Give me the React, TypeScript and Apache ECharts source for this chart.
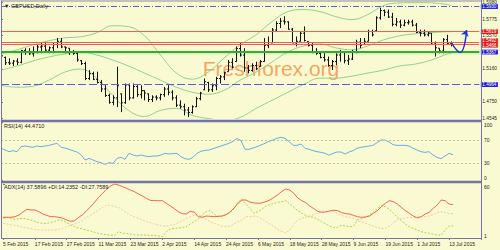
import React, { useEffect, useRef } from "react";
import * as echarts from "echarts";

const dateLabels = ["5 Feb 2015", "17 Feb 2015", "27 Feb 2015", "11 Mar 2015", "23 Mar 2015", "2 Apr 2015", "14 Apr 2015", "24 Apr 2015", "6 May 2015", "18 May 2015", "28 May 2015", "9 Jun 2015", "19 Jun 2015", "1 Jul 2015", "13 Jul 2015"];

const opens = [1.5240, 1.5300, 1.5235, 1.5230, 1.5255, 1.5240, 1.5385, 1.5370, 1.5345, 1.5360,
  1.5430, 1.5440, 1.5390, 1.5420, 1.5460, 1.5500, 1.5430, 1.5415, 1.5365, 1.5350,
  1.5260, 1.5225, 1.5040, 1.5100, 1.5030, 1.4990, 1.4910, 1.4830, 1.4745, 1.4800,
  1.4850, 1.4740, 1.4960, 1.4800, 1.4940, 1.4840, 1.4890, 1.4850, 1.4780, 1.4810,
  1.4800, 1.4840, 1.4910, 1.4870, 1.4800, 1.4710, 1.4690, 1.4650, 1.4620, 1.4690,
  1.4790, 1.4900, 1.4990, 1.4900, 1.4950, 1.5040, 1.5060, 1.5124, 1.5240, 1.5250,
  1.5410, 1.5330, 1.5170, 1.5140, 1.5200, 1.5190, 1.5250, 1.5450, 1.5480, 1.5640,
  1.5720, 1.5750, 1.5740, 1.5650, 1.5480, 1.5500, 1.5600, 1.5498, 1.5450, 1.5370,
  1.5350, 1.5300, 1.5270, 1.5200, 1.5250, 1.5330, 1.5370, 1.5260, 1.5280, 1.5370,
  1.5490, 1.5460, 1.5500, 1.5620, 1.5630, 1.5790, 1.5880, 1.5860, 1.5800, 1.5710,
  1.5740, 1.5700, 1.5730, 1.5740, 1.5700, 1.5610, 1.5600, 1.5580, 1.5600, 1.5480,
  1.5415, 1.5380, 1.5520, 1.5470];
const highs = [1.5332, 1.5311, 1.5290, 1.5269, 1.5290, 1.5394, 1.5415, 1.5415, 1.5436, 1.5456,
  1.5477, 1.5477, 1.5436, 1.5477, 1.5540, 1.5540, 1.5436, 1.5415, 1.5394, 1.5373,
  1.5269, 1.5248, 1.5144, 1.5124, 1.5124, 1.5020, 1.4957, 1.4853, 1.4832, 1.5186,
  1.4853, 1.4978, 1.4978, 1.4978, 1.4957, 1.4957, 1.4895, 1.4853, 1.4832, 1.4832,
  1.4853, 1.4936, 1.4957, 1.4895, 1.4832, 1.4770, 1.4728, 1.4687, 1.4708, 1.4812,
  1.4874, 1.5040, 1.4999, 1.4978, 1.5061, 1.5082, 1.5124, 1.5269, 1.5290, 1.5436,
  1.5477, 1.5415, 1.5207, 1.5228, 1.5248, 1.5269, 1.5540, 1.5560, 1.5664, 1.5748,
  1.5789, 1.5810, 1.5748, 1.5664, 1.5560, 1.5623, 1.5685, 1.5498, 1.5477, 1.5415,
  1.5373, 1.5352, 1.5311, 1.5269, 1.5352, 1.5394, 1.5373, 1.5332, 1.5394, 1.5519,
  1.5540, 1.5540, 1.5644, 1.5644, 1.5810, 1.5914, 1.5893, 1.5893, 1.5852, 1.5789,
  1.5768, 1.5768, 1.5768, 1.5768, 1.5727, 1.5644, 1.5644, 1.5623, 1.5602, 1.5498,
  1.5415, 1.5540, 1.5581, 1.5498];
const lows = [1.5195, 1.5207, 1.5207, 1.5195, 1.5207, 1.5228, 1.5332, 1.5332, 1.5311, 1.5352,
  1.5352, 1.5373, 1.5352, 1.5352, 1.5415, 1.5415, 1.5352, 1.5332, 1.5332, 1.5248,
  1.5207, 1.5020, 1.5020, 1.5020, 1.4978, 1.4874, 1.4812, 1.4728, 1.4708, 1.4687,
  1.4624, 1.4728, 1.4770, 1.4791, 1.4812, 1.4791, 1.4770, 1.4749, 1.4749, 1.4770,
  1.4770, 1.4812, 1.4832, 1.4770, 1.4687, 1.4666, 1.4583, 1.4562, 1.4604, 1.4687,
  1.4770, 1.4895, 1.4874, 1.4874, 1.4895, 1.4978, 1.5020, 1.5124, 1.5165, 1.5248,
  1.5311, 1.5124, 1.5103, 1.5124, 1.5144, 1.5186, 1.5248, 1.5415, 1.5477, 1.5623,
  1.5664, 1.5706, 1.5644, 1.5477, 1.5436, 1.5498, 1.5498, 1.5436, 1.5352, 1.5332,
  1.5290, 1.5248, 1.5186, 1.5144, 1.5207, 1.5248, 1.5228, 1.5207, 1.5269, 1.5352,
  1.5415, 1.5456, 1.5498, 1.5560, 1.5623, 1.5768, 1.5810, 1.5789, 1.5685, 1.5685,
  1.5664, 1.5685, 1.5706, 1.5685, 1.5602, 1.5560, 1.5560, 1.5560, 1.5456, 1.5311,
  1.5352, 1.5352, 1.5456, 1.5436];
const closes = [1.5320, 1.5235, 1.5230, 1.5255, 1.5240, 1.5385, 1.5370, 1.5345, 1.5360, 1.5430,
  1.5440, 1.5390, 1.5420, 1.5460, 1.5500, 1.5430, 1.5420, 1.5365, 1.5350, 1.5270,
  1.5225, 1.5040, 1.5100, 1.5030, 1.4990, 1.4910, 1.4830, 1.4745, 1.4800, 1.4950,
  1.4740, 1.4960, 1.4800, 1.4940, 1.4840, 1.4890, 1.4860, 1.4780, 1.4810, 1.4800,
  1.4840, 1.4910, 1.4870, 1.4800, 1.4710, 1.4690, 1.4650, 1.4620, 1.4690, 1.4790,
  1.4860, 1.5000, 1.4900, 1.4950, 1.5040, 1.5060, 1.5110, 1.5240, 1.5180, 1.5410,
  1.5330, 1.5170, 1.5140, 1.5200, 1.5160, 1.5250, 1.5450, 1.5460, 1.5640, 1.5720,
  1.5750, 1.5740, 1.5650, 1.5480, 1.5500, 1.5600, 1.5510, 1.5450, 1.5370, 1.5350,
  1.5300, 1.5270, 1.5200, 1.5250, 1.5330, 1.5370, 1.5260, 1.5280, 1.5370, 1.5490,
  1.5450, 1.5500, 1.5620, 1.5580, 1.5790, 1.5880, 1.5860, 1.5800, 1.5710, 1.5740,
  1.5700, 1.5730, 1.5740, 1.5700, 1.5610, 1.5600, 1.5580, 1.5600, 1.5480, 1.5420,
  1.5380, 1.5520, 1.5470, 1.5480];

const bbIndex = [0, 4, 8, 12, 16, 20, 24, 28, 32, 36, 40, 44, 48, 52, 56, 60, 64, 68, 72, 76, 80, 84, 88, 92, 96, 100, 104, 108, 112, 113];
const bbUpper = [1.5344, 1.5394, 1.5456, 1.5506, 1.5543, 1.5556, 1.5606, 1.5693, 1.5681, 1.5568,
  1.5331, 1.5107, 1.5032, 1.5119, 1.5294, 1.5456, 1.5581, 1.5743, 1.5868, 1.5893,
  1.5868, 1.5805, 1.5768, 1.5830, 1.5943, 1.5975, 1.5978, 1.5975, 1.5955, 1.5943];
const bbMiddle = [1.5144, 1.5194, 1.5256, 1.5306, 1.5344, 1.5369, 1.5331, 1.5269, 1.5194, 1.5107,
  1.5019, 1.4932, 1.4870, 1.4845, 1.4894, 1.5019, 1.5119, 1.5244, 1.5369, 1.5443,
  1.5468, 1.5419, 1.5394, 1.5443, 1.5518, 1.5568, 1.5593, 1.5606, 1.5618, 1.5618];
const bbLower = [1.4957, 1.4932, 1.4944, 1.5019, 1.5119, 1.5157, 1.5044, 1.4832, 1.4645, 1.4570,
  1.4645, 1.4670, 1.4583, 1.4545, 1.4520, 1.4558, 1.4670, 1.4770, 1.4870, 1.4969,
  1.5044, 1.5044, 1.5069, 1.5107, 1.5144, 1.5194, 1.5219, 1.5269, 1.5344, 1.5356];

const rsi = [55.5, 52.6, 49.7, 51.4, 49.7, 58.3, 59.5, 58.3, 57.2, 59.5,
  58.3, 59.5, 60.6, 62.4, 64.1, 57.2, 56.0, 53.8, 51.4, 49.1,
  44.6, 35.3, 38.2, 35.3, 32.5, 30.7, 27.9, 30.7, 29.6, 38.2,
  40.0, 36.5, 46.9, 44.0, 42.2, 44.0, 42.2, 41.1, 42.2, 42.2,
  44.0, 46.9, 45.7, 46.3, 46.9, 41.1, 37.6, 36.5, 40.0, 46.9,
  50.3, 52.0, 52.6, 54.9, 57.2, 59.5, 61.8, 64.1, 67.5, 72.7,
  68.6, 53.8, 53.8, 56.0, 58.3, 61.2, 64.1, 67.5, 69.8, 72.7,
  74.4, 72.7, 67.5, 60.6, 60.6, 63.0, 55.5, 53.8, 51.4, 49.7,
  48.5, 46.9, 43.4, 46.9, 49.1, 49.1, 45.7, 49.1, 51.4, 55.5,
  57.2, 58.3, 59.5, 60.6, 65.2, 69.8, 69.8, 66.4, 61.8, 60.6,
  60.6, 60.6, 59.5, 55.5, 52.6, 49.7, 48.5, 49.7, 44.0, 40.0,
  37.6, 42.2, 46.9, 44.471];
const adx = [23.6, 23.6, 23.6, 24.3, 26.1, 29.4, 32.3, 31.6, 31.6, 29.8,
  27.2, 25.7, 24.3, 24.3, 23.6, 22.5, 20.7, 19.2, 19.9, 23.6,
  26.5, 30.9, 35.2, 40.0, 45.4, 49.8, 54.2, 57.8, 60.0, 58.9,
  57.1, 55.3, 53.4, 51.6, 49.1, 46.9, 44.3, 42.1, 41.8, 41.8,
  41.8, 38.9, 36.0, 33.1, 29.8, 27.6, 27.2, 30.2, 29.4, 24.3,
  23.6, 25.0, 24.7, 24.3, 24.7, 25.0, 26.5, 29.4, 33.8, 38.9,
  42.5, 42.5, 40.3, 39.3, 38.9, 39.3, 40.7, 42.5, 45.4, 48.3,
  52.0, 54.5, 53.4, 49.8, 44.7, 41.8, 39.6, 36.0, 33.1, 30.2,
  29.1, 29.4, 30.5, 31.3, 30.9, 28.7, 27.6, 27.2, 25.7, 24.3,
  23.6, 24.0, 25.0, 28.0, 30.9, 35.2, 38.9, 41.8, 40.7, 38.1,
  34.5, 30.9, 28.0, 25.0, 22.9, 24.3, 27.2, 29.1, 33.4, 37.1,
  42.5, 41.8, 38.1, 37.5896];
const plusDI = [22.5, 23.6, 22.1, 21.4, 22.1, 22.5, 21.4, 20.7, 19.2, 17.8,
  17.0, 17.0, 17.8, 19.2, 20.7, 19.9, 17.8, 15.2, 13.4, 11.9,
  10.8, 9.7, 8.6, 7.2, 6.1, 5.3, 4.6, 4.2, 3.9, 7.9,
  6.1, 6.1, 5.3, 4.6, 4.2, 4.2, 4.2, 3.9, 3.9, 3.2,
  2.4, 7.9, 10.8, 11.5, 11.9, 12.6, 13.4, 16.3, 18.8, 21.4,
  26.1, 29.8, 30.9, 27.2, 24.3, 25.0, 26.5, 28.7, 33.1, 40.3,
  43.2, 38.1, 33.4, 28.0, 29.8, 32.3, 36.0, 37.4, 38.9, 40.0,
  40.7, 41.8, 38.1, 34.5, 30.9, 28.0, 25.7, 24.3, 23.6, 21.4,
  18.8, 16.3, 14.1, 12.6, 12.6, 14.8, 14.1, 13.4, 14.1, 20.7,
  22.1, 23.6, 26.1, 29.8, 33.1, 36.7, 35.2, 32.3, 28.0, 23.6,
  19.9, 16.3, 13.4, 11.5, 9.7, 7.9, 6.8, 6.1, 5.3, 4.2,
  4.2, 9.7, 14.1, 14.2352];
const minusDI = [17.0, 16.3, 15.5, 14.8, 14.1, 12.6, 11.9, 11.2, 10.4, 9.7,
  9.7, 9.7, 9.7, 9.7, 10.4, 11.5, 13.4, 14.8, 16.3, 17.8,
  19.9, 23.6, 26.1, 28.7, 31.6, 34.5, 36.7, 37.0, 35.2, 34.5,
  31.6, 28.7, 26.1, 24.3, 22.1, 20.7, 18.8, 17.8, 16.3, 15.2,
  14.1, 14.1, 14.8, 15.5, 17.8, 19.9, 22.5, 24.3, 25.7, 26.5,
  24.3, 21.4, 18.8, 17.0, 15.5, 14.1, 13.4, 14.1, 16.3, 18.8,
  20.7, 24.3, 24.3, 25.0, 24.3, 22.1, 18.8, 16.3, 13.4, 10.4,
  7.9, 6.8, 9.7, 16.3, 20.7, 22.5, 23.6, 25.0, 26.5, 28.0,
  29.4, 30.1, 30.9, 30.1, 28.0, 25.7, 24.3, 23.6, 22.1, 19.9,
  18.5, 17.0, 15.5, 14.1, 12.6, 11.2, 11.5, 14.1, 17.8, 20.7,
  22.1, 22.9, 23.6, 23.6, 24.3, 24.3, 24.3, 25.0, 26.5, 28.7,
  29.8, 28.7, 27.6, 27.7589];

const priceTicks = [1.4545, 1.4750, 1.4955, 1.5160, 1.5365, 1.5570, 1.5775, 1.5980];
const priceTickLabels = [1.4545, 1.4750, 1.5160, 1.5570, 1.5775, 1.5980];
const rsiTicks = [0, 30, 70, 100];
const rsiLevels = [70, 30];
const adxTicks = [1, 60];
const topLevel = 1.5930;
const redLevels = [1.5619, 1.5492, 1.5468];
const redLabelNudge = [0, -1.3, 1.3];
const supportLevel = 1.5367;
const lowLevel = 1.4964;
const forecastX = [113, 115.2, 116.8];
const forecastY = [1.5480, 1.5362, 1.5640];

const FONT = "'Liberation Sans', Arial, sans-serif";
const FRAME = "#7474a8";
const TXT = "#1e1e1e";

function buildOption() {
  const ohlcData = opens.map((o, i) => [i, o, highs[i], lows[i], closes[i]]);
  const pair = (xs: number[], ys: number[]) => xs.map((x, i) => [x, ys[i]]);
  const idx = (arr: number[]) => arr.map((v, i) => [i, v]);

  const boxLabel = (bg: string, dy = 0) => ({
    show: true,
    position: "end",
    distance: 1.5,
    offset: [0, dy],
    formatter: (p: any) => Number(p.value).toFixed(4),
    color: "#ffffff",
    fontSize: 4.6,
    lineHeight: 4.6,
    fontFamily: FONT,
    backgroundColor: bg,
    padding: [0.2, 1.5, 0, 1.5],
  });

  const frameLine = (x1: number, y1: number, x2: number, y2: number, w: number, c = FRAME) => ({
    type: "line",
    z: 50,
    silent: true,
    shape: { x1, y1, x2, y2 },
    style: { stroke: c, lineWidth: w },
  });

  const label = (x: number, y: number, text: string, size: number) => ({
    type: "text",
    z: 50,
    silent: true,
    x,
    y,
    style: { text, fill: TXT, font: `${size}px ${FONT}`, textVerticalAlign: "middle", textAlign: "left" },
  });

  const xAxes = [0, 1, 2].map((k) => ({
    type: "value",
    gridIndex: k,
    min: 0,
    max: 120,
    interval: 8,
    axisLine: { show: false },
    splitLine: { show: false },
    axisTick: { show: k === 2, length: 2, lineStyle: { color: FRAME } },
    axisLabel:
      k === 2
        ? {
            show: true,
            fontSize: 5,
            fontFamily: FONT,
            color: TXT,
            align: "left",
            margin: 3.5,
            showMinLabel: true,
            showMaxLabel: true,
            formatter: (v: number) => dateLabels[Math.round(v / 8)] ?? "",
          }
        : { show: false },
  }));

  const yAxis = [
    {
      type: "value",
      gridIndex: 0,
      position: "right",
      min: 1.4545,
      max: 1.598,
      axisLine: { show: false },
      splitLine: { show: false },
      axisTick: { show: true, length: 2, customValues: priceTicks, lineStyle: { color: FRAME } },
      axisLabel: {
        customValues: priceTickLabels,
        fontSize: 4.8,
        fontFamily: FONT,
        color: TXT,
        margin: 3,
        formatter: (v: number) => v.toFixed(4),
      },
    },
    {
      type: "value",
      gridIndex: 1,
      position: "right",
      min: 0,
      max: 100,
      axisLine: { show: false },
      splitLine: { show: false },
      axisTick: { show: true, length: 2, customValues: rsiTicks, lineStyle: { color: FRAME } },
      axisLabel: {
        customValues: rsiTicks,
        fontSize: 5,
        fontFamily: FONT,
        color: TXT,
        margin: 3,
        verticalAlignMinLabel: "bottom",
        verticalAlignMaxLabel: "top",
      },
    },
    {
      type: "value",
      gridIndex: 2,
      position: "right",
      min: 1,
      max: 60,
      axisLine: { show: false },
      splitLine: { show: false },
      axisTick: { show: true, length: 2, customValues: adxTicks, lineStyle: { color: FRAME } },
      axisLabel: {
        customValues: adxTicks,
        fontSize: 5,
        fontFamily: FONT,
        color: TXT,
        margin: 3,
        verticalAlignMinLabel: "bottom",
        verticalAlignMaxLabel: "top",
      },
    },
  ];

  const bandStyle = { color: "#8fd28f", width: 1 };

  return {
    animation: false,
    backgroundColor: "#FAFAD2",
    textStyle: { fontFamily: FONT },
    grid: [
      { left: 1, width: 480, top: 2.5, height: 116 },
      { left: 1, width: 480, top: 122.5, height: 58 },
      { left: 1, width: 480, top: 184, height: 54 },
    ],
    xAxis: xAxes,
    yAxis,
    graphic: [
      {
        type: "text",
        z: 0,
        silent: true,
        x: 271,
        y: 68,
        style: {
          text: "Freshforex.org",
          fill: "#F4A05A",
          opacity: 0.95,
          font: `21px ${FONT}`,
          textAlign: "center",
          textVerticalAlign: "middle",
        },
      },
      frameLine(1, 1, 482, 1, 1, "#8a8a98"),
      frameLine(1.5, 0.5, 1.5, 238.5, 1),
      frameLine(481.5, 0, 481.5, 238.5, 1),
      frameLine(1, 121, 482, 121, 2.5),
      frameLine(1, 182, 482, 182, 2.5),
      frameLine(1, 238.5, 482, 238.5, 1),
      label(4, 5.5, "▼ GBPUSD,Daily", 5.5),
      label(4, 126, "RSI(14) 44.4710", 5.5),
      label(4, 187, "ADX(14) 37.5896 +DI:14.2352 -DI:27.7589", 5.5),
    ],
    series: [
      {
        type: "line",
        name: "bbUpper",
        xAxisIndex: 0,
        yAxisIndex: 0,
        data: pair(bbIndex, bbUpper),
        smooth: 0.4,
        showSymbol: false,
        symbol: "none",
        lineStyle: bandStyle,
        z: 2,
      },
      {
        type: "line",
        name: "bbLower",
        xAxisIndex: 0,
        yAxisIndex: 0,
        data: pair(bbIndex, bbLower),
        smooth: 0.4,
        showSymbol: false,
        symbol: "none",
        lineStyle: bandStyle,
        z: 2,
      },
      {
        type: "line",
        name: "bbMiddle",
        xAxisIndex: 0,
        yAxisIndex: 0,
        data: pair(bbIndex, bbMiddle),
        smooth: 0.4,
        showSymbol: false,
        symbol: "none",
        lineStyle: bandStyle,
        z: 2,
        markArea: {
          silent: true,
          data: [
            [
              {
                yAxis: supportLevel,
                itemStyle: {
                  color: new echarts.graphic.LinearGradient(0, 0, 0, 1, [
                    { offset: 0, color: "rgba(110,180,70,0.45)" },
                    { offset: 1, color: "rgba(250,250,210,0)" },
                  ]),
                },
              },
              { yAxis: supportLevel - 0.0055 },
            ],
          ],
        },
        markLine: {
          silent: true,
          symbol: "none",
          animation: false,
          precision: 4,
          data: [
            { yAxis: topLevel, lineStyle: { color: "#5a5ae6", width: 1, type: [6, 2, 1, 2] }, label: boxLabel("#1c1ce0") },
            { yAxis: lowLevel, lineStyle: { color: "#5a5ae6", width: 1, type: [8, 3] }, label: boxLabel("#1c1ce0") },
            { yAxis: supportLevel, lineStyle: { color: "#2fae2f", width: 2, type: "solid" }, label: boxLabel("#1c1ce0") },
            ...redLevels.map((v, k) => ({
              yAxis: v,
              lineStyle: { color: "#f0604e", width: 1, type: "solid" },
              label: boxLabel("#e41818", redLabelNudge[k]),
            })),
          ],
        },
      },
      {
        type: "custom",
        name: "GBPUSD",
        xAxisIndex: 0,
        yAxisIndex: 0,
        data: ohlcData,
        encode: { x: 0, y: [1, 2, 3, 4] },
        clip: true,
        z: 4,
        renderItem: (_params: any, api: any) => {
          const x = api.value(0);
          const pO = api.coord([x, api.value(1)]);
          const pH = api.coord([x, api.value(2)]);
          const pL = api.coord([x, api.value(3)]);
          const pC = api.coord([x, api.value(4)]);
          const cx = Math.round(pH[0]) + 0.5;
          const st = { stroke: "#111111", lineWidth: 1 };
          return {
            type: "group",
            children: [
              { type: "line", shape: { x1: cx, y1: pH[1], x2: cx, y2: pL[1] }, style: st },
              { type: "line", shape: { x1: cx - 1.5, y1: pO[1], x2: cx, y2: pO[1] }, style: st },
              { type: "line", shape: { x1: cx, y1: pC[1], x2: cx + 1.5, y2: pC[1] }, style: st },
            ],
          };
        },
      },
      {
        type: "line",
        name: "forecast",
        xAxisIndex: 0,
        yAxisIndex: 0,
        data: pair(forecastX, forecastY),
        smooth: true,
        symbol: (_v: any, p: any) => (p.dataIndex === forecastX.length - 1 ? "arrow" : "none"),
        symbolSize: 6,
        symbolRotate: -18,
        showSymbol: true,
        itemStyle: { color: "#1f33d2" },
        lineStyle: { color: "#1f33d2", width: 1.5 },
        z: 6,
      },
      {
        type: "line",
        name: "RSI",
        xAxisIndex: 1,
        yAxisIndex: 1,
        data: idx(rsi),
        showSymbol: false,
        symbol: "none",
        lineStyle: { color: "#6aaee6", width: 1 },
        markLine: {
          silent: true,
          symbol: "none",
          label: { show: false },
          lineStyle: { color: "#bdbdb0", width: 1, type: [2, 2] },
          data: rsiLevels.map((v) => ({ yAxis: v })),
        },
      },
      {
        type: "line",
        name: "-DI",
        xAxisIndex: 2,
        yAxisIndex: 2,
        data: idx(minusDI),
        showSymbol: false,
        symbol: "none",
        lineStyle: { color: "#f5c8a6", width: 1, type: [2, 1.5] },
      },
      {
        type: "line",
        name: "+DI",
        xAxisIndex: 2,
        yAxisIndex: 2,
        data: idx(plusDI),
        showSymbol: false,
        symbol: "none",
        lineStyle: { color: "#b0d04a", width: 1, type: [2, 1.5] },
      },
      {
        type: "line",
        name: "ADX",
        xAxisIndex: 2,
        yAxisIndex: 2,
        data: idx(adx),
        showSymbol: false,
        symbol: "none",
        lineStyle: { color: "#f2624e", width: 1 },
      },
    ],
  };
}

export default function App() {
  const ref = useRef<HTMLDivElement>(null);
  useEffect(() => {
    if (!ref.current) return;
    const chart = echarts.init(ref.current, null, { renderer: "svg" });
    chart.setOption(buildOption() as any);
    return () => chart.dispose();
  }, []);
  return <div ref={ref} style={{ position: "fixed", left: 0, top: 0, width: 500, height: 250 }} />;
}
